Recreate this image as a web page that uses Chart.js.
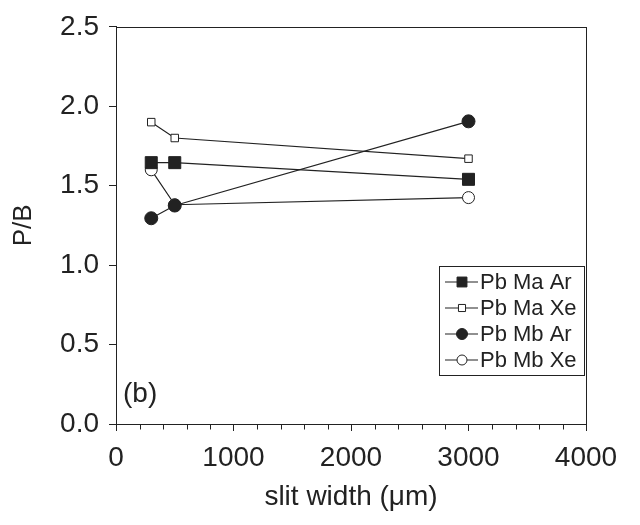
<!DOCTYPE html>
<html>
<head>
<meta charset="utf-8">
<script src="https://cdn.jsdelivr.net/npm/chart.js@4/dist/chart.umd.min.js"></script>
<style>
    body { margin: 0; background: #fff; }
    #wrap { width: 640px; height: 525px; }
</style>
</head>
<body>
<div id="wrap"><canvas id="pbChart" width="640" height="525"></canvas></div>
<script>
// 狭缝宽度 (μm)
const slitWidths = [300, 500, 3000];

// 各谱线的 P/B 值
const pbMaAr = [1.645, 1.645, 1.54];
const pbMaXe = [1.90, 1.80, 1.67];
const pbMbAr = [1.295, 1.375, 1.905];
const pbMbXe = [1.60, 1.38, 1.425];

const seriesNames = ['Pb Ma Ar', 'Pb Ma Xe', 'Pb Mb Ar', 'Pb Mb Xe'];
const panelLabel = '(b)';

const INK = '#222';
const FONT = '"Liberation Sans", Arial, sans-serif';

function toPoints(values) {
    return slitWidths.map((x, i) => ({ x: x, y: values[i] }));
}

// 点样式: 实心方块 / 空心小方块 / 实心圆 / 空心圆
const markerStyles = [
    { pointStyle: 'rect', radius: 8.5, fill: INK, legendRadius: 7 },
    { pointStyle: 'rect', radius: 5.3, fill: '#fff', legendRadius: 5 },
    { pointStyle: 'circle', radius: 6.5, fill: INK, legendRadius: 5.5 },
    { pointStyle: 'circle', radius: 6, fill: '#fff', legendRadius: 5 }
];

const seriesValues = [pbMaAr, pbMaXe, pbMbAr, pbMbXe];

const datasets = seriesValues.map((values, i) => ({
    label: seriesNames[i],
    data: toPoints(values),
    borderColor: INK,
    borderWidth: 1.2,
    pointStyle: markerStyles[i].pointStyle,
    pointRadius: markerStyles[i].radius,
    pointHoverRadius: markerStyles[i].radius,
    pointBackgroundColor: markerStyles[i].fill,
    pointBorderColor: INK,
    pointBorderWidth: 1,
    tension: 0,
    fill: false
}));

// 边框、次刻度、图例和面板标记
const framePlugin = {
    id: 'frame',
    afterDraw(chart) {
        const ctx = chart.ctx;
        const area = chart.chartArea;
        const xScale = chart.scales.x;
        ctx.save();
        ctx.strokeStyle = INK;
        ctx.lineWidth = 1;

        // 四周边框
        const l = Math.round(area.left) + 0.5;
        const t = Math.round(area.top) + 0.5;
        const r = Math.round(area.right) + 0.5;
        const b = Math.round(area.bottom) + 0.5;
        ctx.strokeRect(l, t, r - l, b - t);

        // x 轴次刻度
        ctx.beginPath();
        for (let v = 200; v < 4000; v += 200) {
            if (v % 1000 === 0) continue;
            const px = Math.round(xScale.getPixelForValue(v)) + 0.5;
            ctx.moveTo(px, b);
            ctx.lineTo(px, b + 5);
        }
        ctx.stroke();

        // 面板标记
        ctx.fillStyle = INK;
        ctx.font = '28px ' + FONT;
        ctx.textAlign = 'left';
        ctx.textBaseline = 'middle';
        ctx.fillText(panelLabel, area.left + 7, area.bottom - 30);

        // 图例
        const box = { left: area.right - 147, top: area.bottom - 158, width: 145, height: 109 };
        ctx.strokeRect(Math.round(box.left) + 0.5, Math.round(box.top) + 0.5, box.width, box.height);
        ctx.font = '22px ' + FONT;
        chart.data.datasets.forEach((ds, i) => {
            const y = box.top + 16 + i * 26;
            ctx.beginPath();
            ctx.lineWidth = 1.2;
            ctx.moveTo(box.left + 6, y);
            ctx.lineTo(box.left + 39, y);
            ctx.stroke();
            ctx.fillStyle = markerStyles[i].fill;
            ctx.strokeStyle = INK;
            ctx.lineWidth = 1;
            Chart.helpers.drawPoint(ctx, {
                pointStyle: markerStyles[i].pointStyle,
                radius: markerStyles[i].legendRadius,
                rotation: 0,
                borderWidth: 1
            }, box.left + 23, y);
            ctx.fillStyle = INK;
            ctx.fillText(ds.label, box.left + 41, y + 1);
        });
        ctx.restore();
    }
};

const ctx = document.getElementById('pbChart').getContext('2d');
new Chart(ctx, {
    type: 'line',
    data: { datasets: datasets },
    plugins: [framePlugin],
    options: {
        responsive: false,
        animation: false,
        events: [],
        layout: { padding: { left: 0, right: 54, top: 24, bottom: 0 } },
        plugins: {
            legend: { display: false },
            tooltip: { enabled: false }
        },
        scales: {
            x: {
                type: 'linear',
                min: 0,
                max: 4000,
                afterFit(scale) { scale.height = 101; },
                ticks: {
                    stepSize: 1000,
                    color: INK,
                    padding: 10,
                    maxRotation: 0,
                    font: { family: FONT, size: 28 },
                    callback: v => String(v)
                },
                grid: { drawOnChartArea: false, tickLength: 7, tickColor: INK },
                border: { color: INK, width: 1 },
                title: {
                    display: true,
                    text: 'slit width (μm)',
                    color: INK,
                    font: { family: FONT, size: 28 },
                    padding: { top: 0, bottom: 11 }
                }
            },
            y: {
                min: 0,
                max: 2.5,
                afterFit(scale) { scale.width = 116; },
                ticks: {
                    stepSize: 0.5,
                    color: INK,
                    padding: 10,
                    font: { family: FONT, size: 28 },
                    callback: v => v.toFixed(1)
                },
                grid: { drawOnChartArea: false, tickLength: 7, tickColor: INK },
                border: { color: INK, width: 1 },
                title: {
                    display: true,
                    text: 'P/B',
                    color: INK,
                    font: { family: FONT, size: 26 },
                    padding: { top: 8, bottom: 0 }
                }
            }
        }
    }
});
</script>
</body>
</html>
